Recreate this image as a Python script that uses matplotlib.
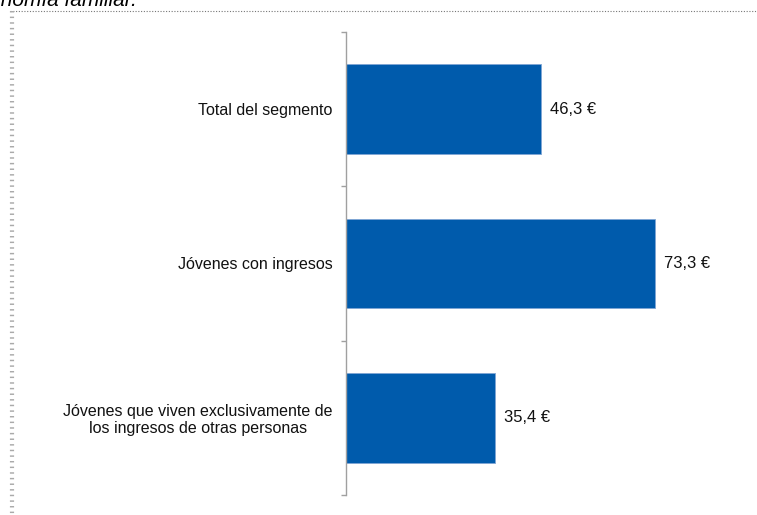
import matplotlib
matplotlib.use("Agg")
import matplotlib.pyplot as plt
from matplotlib.lines import Line2D

categories = [
    "Total del segmento",
    "Jóvenes con ingresos",
    "Jóvenes que viven exclusivamente de\nlos ingresos de otras personas",
]
values = [46.3, 73.3, 35.4]

W, H = 757, 515
plt.rcParams["font.family"] = ["Liberation Sans", "DejaVu Sans"]

fig = plt.figure(figsize=(W / 100, H / 100), dpi=100)

# axes placed in pixel terms: spine at x=346, from y=32 to y=495
ax = fig.add_axes([346 / W, 1 - 495 / H, 380 / W, 463 / H])

pos = range(len(categories))
ax.barh(pos, values, height=0.58, color="#005bac", edgecolor="#7fa6d4", linewidth=0.6)
ax.set_xlim(0, 90)
ax.set_ylim(2.5, -0.5)

ax.set_yticks(list(pos))
ax.set_yticklabels(categories, fontsize=11.5, color="#111111",
                   multialignment="center", linespacing=1.1)
ax.tick_params(axis="y", which="major", length=0, pad=9.5)
ax.set_yticks([-0.5, 0.5, 1.5, 2.5], minor=True)
ax.tick_params(axis="y", which="minor", length=3.8, width=1, color="#a0a0a0", direction="out")
ax.set_xticks([])

for s in ["top", "right", "bottom"]:
    ax.spines[s].set_visible(False)
ax.spines["left"].set_color("#a0a0a0")
ax.spines["left"].set_linewidth(1)

for i, v in enumerate(values):
    ax.annotate(f"{v:.1f} €".replace(".", ","), (v, i), xytext=(6, 0),
                textcoords="offset points", va="center", ha="left",
                fontsize=12, color="#111111")

# dotted frame around the chart box
fig.add_artist(Line2D([10 / W, 1], [1 - 11 / H] * 2, color="#777777",
                      lw=0.8, linestyle=(0, (1, 1.5))))
fig.add_artist(Line2D([12 / W] * 2, [1 - 11 / H, 0], color="#aaaaaa",
                      lw=3, linestyle=(0, (0.35, 1))))

# tail of the caption above the frame
fig.text(137 / W, 1 - 6 / H, "economía familiar.", ha="right", va="baseline",
         fontsize=15, style="italic", color="#000000")

fig.savefig("out.png", dpi=100)
